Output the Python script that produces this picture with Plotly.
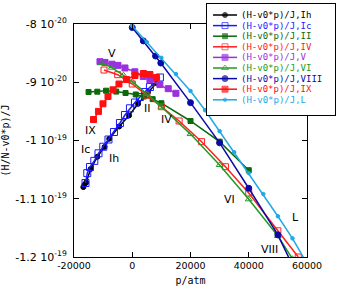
import plotly.graph_objects as go

E = 1e-20  # values below are in units of 1e-20 J

# ---- data (p in atm, H in 1e-20 J) ----
p_Ih = [-16800, -16400, -15800, -14300, -12000, -9500, -7900, -4500, -1100, 2000, 5400, 8500]
H_Ih = [-10.80, -10.76, -10.72, -10.49, -10.28, -10.11, -9.97, -9.76, -9.57, -9.37, -9.17, -9.01]

p_Ic = [-16050, -15440, -14510, -13030, -11590, -9950, -8160, -6280, -4220, -2500, -790, 930, 2640, 4360, 6070, 7790, 9500]
H_Ic = [-10.73, -10.56, -10.455, -10.35, -10.22, -10.107, -9.983, -9.854, -9.70, -9.562, -9.447, -9.348, -9.253, -9.167, -9.082, -8.996, -8.918]

p_II = [-15000, -12000, -9000, -5500, -2300, 1200, 4000, 7000, 10000, 20000, 30000, 40000]
H_II = [-9.167, -9.162, -9.145, -9.16, -9.185, -9.21, -9.245, -9.29, -9.36, -9.665, -10.02, -10.51]

p_IV = [-9700, -5000, 0, 5000, 10000, 16100, 23800, 32000, 40000, 50000, 57000]
H_IV = [-8.79, -8.87, -9.03, -9.22, -9.42, -9.665, -10.02, -10.45, -10.90, -11.55, -12.00]

p_V = [-11080, -9360, -6960, -4900, -2500, 900, 3770, 6070, 9500, 12350, 15000]
H_V = [-8.647, -8.66, -8.69, -8.71, -8.755, -8.82, -8.90, -8.96, -9.04, -9.11, -9.19]

p_VI = [-10500, -7000, -3000, 0, 5000, 10000, 20000, 30000, 40000, 50000, 55000]
H_VI = [-8.67, -8.75, -8.88, -8.99, -9.20, -9.42, -9.89, -10.42, -11.01, -11.64, -12.03]

p_VIII = [0, 3800, 8000, 9800, 20000, 30000, 40000, 50000, 55000]
H_VIII = [-8.06, -8.29, -8.55, -8.67, -9.35, -10.04, -10.82, -11.62, -12.14]

p_IX = [-13300, -11600, -10050, -8330, -6620, -4560, -1990, 930, 3840, 6070, 8300]
H_IX = [-9.64, -9.50, -9.37, -9.245, -9.13, -9.03, -8.953, -8.884, -8.85, -8.867, -8.918]

p_L = [0, 5000, 10000, 15000, 20000, 25000, 30000, 35000, 40000, 45000, 50000, 55000, 60000]
H_L = [-8.034, -8.31, -8.58, -8.86, -9.15, -9.48, -9.84, -10.20, -10.56, -10.92, -11.30, -11.68, -12.11]

phase_names = ["Ih", "Ic", "II", "IV", "V", "VI", "VIII", "IX", "L"]
colors = ["#000000", "#1a1aff", "#0a6a0a", "#ff2020", "#9a30e0", "#229a22", "#0a0aa8", "#ff1010", "#20a8e6"]
symbols = ["circle", "square-open", "square", "square-open", "square", "triangle-up-open", "circle", "square", "circle"]
msizes = [5, 7, 5, 6, 6, 6, 6, 6, 3.5]
series_p = [p_Ih, p_Ic, p_II, p_IV, p_V, p_VI, p_VIII, p_IX, p_L]
series_H = [H_Ih, H_Ic, H_II, H_IV, H_V, H_VI, H_VIII, H_IX, H_L]

# in-plot phase labels (p, H in 1e-20)
lab_text = ["V", "IX", "Ic", "Ih", "II", "IV", "VI", "L", "VIII"]
lab_p = [-7100, -14500, -15900, -6300, 5200, 11600, 33500, 56200, 47000]
lab_H = [-8.50, -9.83, -10.16, -10.31, -9.45, -9.64, -11.02, -11.33, -11.87]

x_ticks = [-20000, 0, 20000, 40000, 60000]
y_tickvals = [-12, -11, -10, -9, -8]
y_ticktext = ["-1.2 10<sup>-19</sup>", "-1.1 10<sup>-19</sup>", "-1 10<sup>-19</sup>",
              "-9 10<sup>-20</sup>", "-8 10<sup>-20</sup>"]

fig = go.Figure()
for name, c, s, ms, px, hy in zip(phase_names, colors, symbols, msizes, series_p, series_H):
    fig.add_trace(go.Scatter(
        x=px, y=[h * E for h in hy], mode="lines+markers", name=name,
        line=dict(color=c, width=1.5),
        marker=dict(symbol=s, size=ms, color=c, line=dict(color=c, width=1)),
        showlegend=False, xaxis="x", yaxis="y"))

# custom compact legend on its own overlay subplot
row_y = [11 + 10.6 * i for i in range(len(phase_names))]
for i, (name, c, s, ms) in enumerate(zip(phase_names, colors, symbols, msizes)):
    fig.add_trace(go.Scatter(
        x=[6, 18, 30], y=[row_y[i]] * 3, mode="lines+markers",
        line=dict(color=c, width=1.5),
        marker=dict(symbol=s, size=[0, min(ms, 6), 0], color=c, line=dict(color=c, width=1)),
        showlegend=False, xaxis="x2", yaxis="y2", hoverinfo="skip"))

annotations = []
for i, (name, c) in enumerate(zip(phase_names, colors)):
    annotations.append(dict(
        x=32, y=row_y[i], xref="x2", yref="y2", text="(H-v0*p)/J," + name,
        showarrow=False, xanchor="left", yanchor="middle",
        font=dict(family="DejaVu Sans Mono", size=9, color=c)))
for t, px, hy in zip(lab_text, lab_p, lab_H):
    annotations.append(dict(
        x=px, y=hy * E, xref="x", yref="y", text=t, showarrow=False,
        font=dict(family="DejaVu Sans", size=11, color="black")))

W, H = 339, 293
ml, mr, mt, mb = 74, 4, 4, 36
pw, ph = W - ml - mr, H - mt - mb

fig.update_layout(
    width=W, height=H,
    margin=dict(l=ml, r=mr, t=mt, b=mb, pad=0, autoexpand=False),
    paper_bgcolor="white", plot_bgcolor="white",
    showlegend=False,
    annotations=annotations,
    xaxis=dict(
        domain=[0, 233 / pw], range=[-20000, 60000], tickvals=x_ticks,
        ticktext=[str(v) for v in x_ticks],
        ticks="inside", ticklen=5, tickcolor="black",
        showline=True, linecolor="black", linewidth=1, mirror="ticks",
        showgrid=False, zeroline=False, automargin=False,
        tickfont=dict(family="DejaVu Sans", size=9.5, color="black"),
        title=dict(text="p/atm", font=dict(family="DejaVu Sans Mono", size=10, color="black"), standoff=6),
        anchor="y"),
    yaxis=dict(
        domain=[0, 233 / ph], range=[-12 * E, -8 * E],
        tickvals=[v * E for v in y_tickvals], ticktext=y_ticktext,
        ticks="inside", ticklen=5, tickcolor="black",
        showline=True, linecolor="black", linewidth=1, mirror="ticks",
        showgrid=False, zeroline=False, automargin=False,
        tickfont=dict(family="DejaVu Sans", size=11, color="black"),
        ticklabelstandoff=4,
        title=dict(text="(H/N-v0*p)/J", font=dict(family="DejaVu Sans Mono", size=10, color="black"), standoff=8),
        anchor="x"),
    xaxis2=dict(
        domain=[(207 - ml) / pw, 1], range=[0, 128], anchor="y2",
        showline=True, linecolor="black", linewidth=1, mirror=True, automargin=False,
        showgrid=False, zeroline=False, showticklabels=False, ticks="", fixedrange=True),
    yaxis2=dict(
        domain=[(257 - 115) / ph, 1], range=[111, 0], anchor="x2",
        showline=True, linecolor="black", linewidth=1, mirror=True, automargin=False,
        showgrid=False, zeroline=False, showticklabels=False, ticks="", fixedrange=True),
)

fig.write_html("out.html")
